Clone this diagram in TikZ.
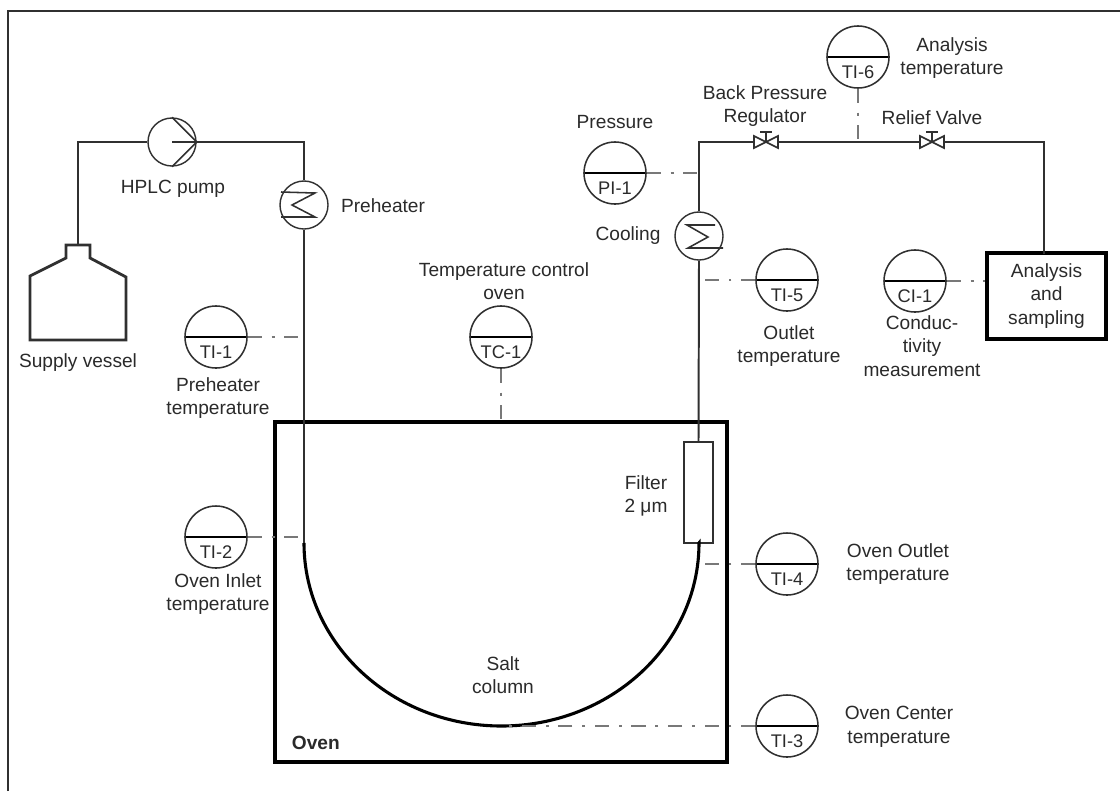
\documentclass[tikz,border=0pt]{standalone}
\usepackage{fontspec}
\setmainfont{Liberation Sans}
\usetikzlibrary{positioning}
\definecolor{inktext}{HTML}{2A2A2A}
\definecolor{inkline}{HTML}{303030}
\begin{document}
\begin{tikzpicture}[
  x=0.025cm, y=-0.025cm,
  every node/.style={font=\fontsize{13.6}{16.7}\selectfont, text=inktext, align=center},
  pipe/.style={draw=inkline, line width=1.4pt},
  signal/.style={draw=inkline!65, line width=1.4pt, dash pattern=on 10pt off 7pt on 2pt off 7pt},
  column/.style={draw=black, line width=2.2pt},
  vesselline/.style={draw=inkline, line width=2pt},
  wall/.style={rectangle, draw=black, line width=2.8pt, inner sep=0pt},
  exchanger/.style={circle, draw=inkline, line width=1pt, inner sep=0pt, minimum size=1.2cm},
  tagtext/.style={font=\fontsize{13}{14}\selectfont, yshift=-0.37cm},
  inst/.style={circle, draw=inkline, line width=1.1pt, inner sep=0pt, minimum size=1.55cm,
    label={[tagtext]center:#1},
    path picture={\draw[black, line width=2pt] (path picture bounding box.west) -- (path picture bounding box.east);}},
  valve/.pic={
    \draw[draw=inkline, fill=white, line width=1.2pt] (-12,-6) -- (12,6) -- (12,-6) -- (-12,6) -- cycle;
    \draw[draw=inkline, line width=1.2pt] (0,0) -- (0,-10) (-6,-10) -- (6,-10);
  }
]
\useasboundingbox (0,0) rectangle (1120,791);

% Outer frame
\draw[draw=inkline, line width=1.2pt] (8,791) -- (8,11) -- (1120,11);

% Oven and filter
\node[wall, minimum width=11.3cm, minimum height=8.5cm] (oven) at (501,592) {};
\node[font=\fontsize{13.6}{16.7}\selectfont\bfseries, anchor=west] (ovenname) at (287,743) {Oven};
\node[rectangle, draw=inkline, line width=1pt, minimum width=0.73cm, minimum height=2.52cm, inner sep=0pt] (filter) at (698.5,492.5) {};
\node (filtername) at (646,496) {Filter\\2 μm};
\node (saltname) at (503,675) {Salt\\column};

% Supply side
\coordinate (vesseltop) at (78,245);
\draw[vesselline, line join=miter] (66,258) -- (66,245) -- (90,245) -- (90,258) -- (126,277) -- (126,340) -- (30,340) -- (30,276) -- cycle;
\node (vesselname) at (78,363) {Supply vessel};
\node[exchanger] (pump) at (172,142) {};
\node (pumpname) at (173,189) {HPLC pump};
\node[exchanger] (preheater) at (304,205) {};
\node (preheatername) at (383,206) {Preheater};
\coordinate (pumpcorner) at (78,142);
\coordinate (heatcorner) at (304,142);
\coordinate (columnin) at (304,543);
\coordinate (columnout) at (699,543);

% Outlet side
\node[exchanger] (cooler) at (699,236) {};
\node (coolername) at (628,236) {Cooling};
\coordinate (coolcorner) at (699,142);
\coordinate (bpr) at (766,142);
\coordinate (relief) at (932,142);
\coordinate (tapsix) at (858,142);
\coordinate (outcorner) at (1044,142);
\coordinate (outdrop) at (1044,254);
\node[wall, minimum width=2.975cm, minimum height=2.15cm] (sampling) at (1046.5,296) {Analysis\\and\\sampling};

% Pipes
\draw[pipe] (vesseltop) -- (pumpcorner) -- (pump.west);
\draw[pipe] (pump.east) -- (heatcorner) -- (preheater.north);
\draw[pipe] (preheater.south) -- (columnin);
\draw[pipe] (filter.north) -- (cooler.south);
\draw[pipe] (cooler.north) -- (coolcorner) -- (bpr) -- (relief) -- (outcorner) -- (outdrop);
\draw[column] (columnin) arc[start angle=180, end angle=0, x radius=197.5, y radius=183] -- (filter.south);
\pic at (bpr) {valve};
\pic at (relief) {valve};
\node (bprname) at (765,106) {Back Pressure\\Regulator};
\node (reliefname) at (932,118) {Relief Valve};

% Pump and heat exchanger symbols
\draw[draw=inkline, line width=1.1pt] (pump.north) -- (pump.east) -- (pump.south);
\draw[draw=inkline, line width=1.1pt] (pump.center) -- (pump.east);
\draw[draw=inkline, line width=1.1pt] (281,192) -- (315,193) -- (292,205) -- (315,217) -- (281,217);
\draw[draw=inkline, line width=1.1pt] (715,225) -- (687,225) -- (708,237) -- (688,248) -- (723,248);

% Instruments
\node[inst=TI-1] (tione) at (216,337) {};
\node (tionename) at (218,398) {Preheater\\temperature};
\node[inst=TI-2] (titwo) at (216,537) {};
\node (titwoname) at (218,594) {Oven Inlet\\temperature};
\node[inst=TC-1] (tcone) at (501,337) {};
\node (tconename) at (504,281) {Temperature control\\oven};
\node[inst=PI-1] (pione) at (615,173) {};
\node (pionename) at (615,122) {Pressure};
\node[inst=TI-6] (tisix) at (858,57) {};
\node (tisixname) at (952,58) {Analysis\\temperature};
\node[inst=TI-5] (tifive) at (787,280) {};
\node (tifivename) at (789,346) {Outlet\\temperature};
\node[inst=CI-1] (cione) at (915,281) {};
\node (cionename) at (922,346) {Conduc-\\tivity\\measurement};
\node[inst=TI-4] (tifour) at (787,564) {};
\node (tifourname) at (898,564) {Oven Outlet\\temperature};
\node[inst=TI-3] (tithree) at (787,726) {};
\node (tithreename) at (899,727) {Oven Center\\temperature};

% Signal lines
\draw[signal] (tione.east) -- (tione.east -| preheater.south);
\draw[signal] (titwo.east) -- (titwo.east -| preheater.south);
\draw[signal] (tcone.south) -- (tcone.south |- oven.north);
\draw[signal] (pione.east) -- (pione.east -| cooler.north);
\draw[signal] (tisix.south) -- (tapsix);
\draw[signal] (tifive.west) -- (tifive.west -| cooler.south);
\draw[signal] (cione.east) -- (cione.east -| sampling.west);
\draw[signal] (tifour.west) -- (tifour.west -| cooler.south);
\draw[signal] (tithree.west) -- (tithree.west -| tcone.south);

\end{tikzpicture}
\end{document}
